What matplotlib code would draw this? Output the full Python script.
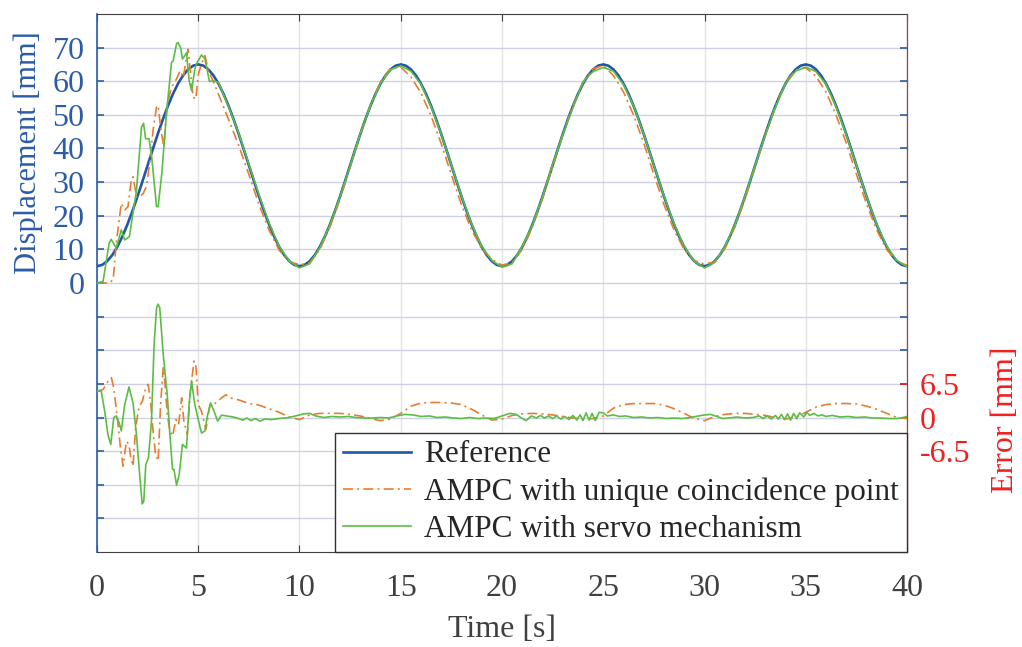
import numpy as np
import matplotlib
matplotlib.use("Agg")
import matplotlib.pyplot as plt

plt.rcParams['font.family'] = ['Liberation Serif', 'DejaVu Serif']
plt.rcParams['mathtext.fontset'] = 'stix'

# ---------------- data ----------------
# Reference trajectory, sampled every 0.25 s from 0 to 40 s
t_ref = np.linspace(0, 40, 161)
reference = [
    5.00, 5.37, 6.47, 8.27, 10.73, 13.79, 17.37, 21.38, 25.73, 30.31, 35.00, 39.69, 44.27, 48.62, 52.63, 56.21,
    59.27, 61.73, 63.53, 64.63, 65.00, 64.63, 63.53, 61.73, 59.27, 56.21, 52.63, 48.62, 44.27, 39.69, 35.00,
    30.31, 25.73, 21.38, 17.37, 13.79, 10.73, 8.27, 6.47, 5.37,
    5.00, 5.37, 6.47, 8.27, 10.73, 13.79, 17.37, 21.38, 25.73, 30.31, 35.00, 39.69, 44.27, 48.62, 52.63, 56.21,
    59.27, 61.73, 63.53, 64.63, 65.00, 64.63, 63.53, 61.73, 59.27, 56.21, 52.63, 48.62, 44.27, 39.69, 35.00,
    30.31, 25.73, 21.38, 17.37, 13.79, 10.73, 8.27, 6.47, 5.37,
    5.00, 5.37, 6.47, 8.27, 10.73, 13.79, 17.37, 21.38, 25.73, 30.31, 35.00, 39.69, 44.27, 48.62, 52.63, 56.21,
    59.27, 61.73, 63.53, 64.63, 65.00, 64.63, 63.53, 61.73, 59.27, 56.21, 52.63, 48.62, 44.27, 39.69, 35.00,
    30.31, 25.73, 21.38, 17.37, 13.79, 10.73, 8.27, 6.47, 5.37,
    5.00, 5.37, 6.47, 8.27, 10.73, 13.79, 17.37, 21.38, 25.73, 30.31, 35.00, 39.69, 44.27, 48.62, 52.63, 56.21,
    59.27, 61.73, 63.53, 64.63, 65.00, 64.63, 63.53, 61.73, 59.27, 56.21, 52.63, 48.62, 44.27, 39.69, 35.00,
    30.31, 25.73, 21.38, 17.37, 13.79, 10.73, 8.27, 6.47, 5.37,
    5.00,
]

# AMPC with unique coincidence point - displacement
t_ucp_early = [0.0, 0.6, 0.8, 0.95, 1.2, 1.37, 1.53, 1.7, 1.78, 1.95, 2.1, 2.28, 2.44, 2.6, 2.77, 2.94, 3.02,
               3.14, 3.3, 3.47, 3.68, 3.93, 4.1, 4.26, 4.42, 4.5, 4.59, 4.75, 4.88, 5.0, 5.16, 5.33, 5.5, 5.74]
ucp_early = [0.0, 0.0, 1.0, 11.8, 23.7, 21.7, 22.7, 31.0, 31.6, 25.6, 25.6, 26.6, 28.6, 35.5, 45.4, 52.3, 52.8,
             46.4, 40.4, 53.3, 58.2, 60.7, 63.1, 61.1, 67.0, 69.5, 64.1, 55.2, 54.7, 62.0, 65.1, 67.6, 63.1, 60.0]
t_late = np.linspace(6, 40, 69)
ucp_late = [56.1, 48.6, 40.9, 32.3, 23.3, 15.7, 9.7, 6.4, 5.4, 6.0, 9.9, 16.6, 24.9, 34.4, 44.0, 52.8, 59.9,
            63.8, 64.2, 61.3, 56.5, 49.7, 41.4, 32.2, 23.2, 15.8, 10.2, 7.0, 5.3, 6.1, 10.0, 16.6, 25.0, 34.5,
            44.1, 52.7, 59.6, 63.7, 64.7, 61.7, 56.8, 49.9, 41.6, 32.3, 23.3, 15.7, 9.9, 6.7, 5.6, 6.3, 10.1,
            16.6, 24.9, 34.4, 43.9, 52.6, 59.6, 63.4, 64.0, 61.5, 56.8, 49.9, 41.6, 32.4, 23.5, 15.8, 9.9, 6.5, 5.2]

# AMPC with servo mechanism - displacement
t_servo_early = [0.0, 0.3, 0.6, 0.7, 0.95, 1.2, 1.37, 1.6, 1.95, 2.2, 2.3, 2.4, 2.57, 2.7, 2.94, 3.02, 3.2,
                 3.43, 3.68, 3.76, 3.93, 4.0, 4.13, 4.22, 4.34, 4.42, 4.55, 4.67, 4.83, 4.95, 5.16, 5.33,
                 5.55, 5.83]
servo_early = [0.0, 0.5, 11.8, 13.0, 10.4, 15.8, 12.8, 13.8, 27.6, 46.4, 47.5, 42.9, 42.9, 37.5, 22.7, 22.7,
               32.5, 50.3, 65.6, 66.0, 71.2, 71.5, 70.0, 66.6, 67.6, 68.5, 60.2, 57.2, 63.6, 65.6, 67.8, 66.6,
               60.0, 60.0]
servo_late = [59.6, 52.4, 44.5, 35.3, 26.3, 17.8, 10.9, 6.5, 4.5, 5.7, 10.5, 17.2, 25.6, 34.8, 44.4, 52.7, 59.3,
              63.5, 64.6, 63.0, 59.1, 52.4, 44.2, 35.1, 25.9, 17.5, 10.9, 6.7, 4.7, 5.7, 10.9, 17.2, 25.6, 35.2,
              44.1, 52.2, 59.9, 62.9, 64.1, 63.0, 59.0, 52.6, 44.3, 35.0, 25.9, 17.5, 10.9, 6.4, 4.5, 6.1, 10.8,
              17.3, 25.8, 35.0, 44.1, 52.2, 59.3, 63.0, 64.2, 62.9, 59.1, 52.4, 44.1, 35.0, 25.7, 17.5, 10.9, 6.7, 4.8]

# Errors [mm]
t_ucp_err = [0.0, 0.3, 0.54, 0.71, 0.83, 1.04, 1.16, 1.29, 1.45, 1.58, 1.67, 1.78, 1.91, 2.08, 2.25, 2.36, 2.53,
             2.66, 2.77, 2.89, 3.02, 3.14, 3.27, 3.35, 3.47, 3.6, 3.73, 3.9, 4.03, 4.18, 4.29, 4.46, 4.59, 4.79,
             4.88, 5.0, 5.16, 5.38, 5.58, 5.74, 5.99, 6.15, 6.37, 6.57,
             7.0, 7.5, 8.0, 8.5, 9.0, 9.5, 10.0, 10.5, 11.0, 11.5, 12.0, 12.5, 13.0, 13.5, 14.0, 14.5, 15.0, 15.5,
             16.0, 16.5, 17.0, 17.5, 18.0, 18.5, 19.0, 19.5, 20.0, 20.5, 21.0, 21.5, 22.0, 22.5, 23.0, 23.5, 24.0,
             24.5, 25.0, 25.5, 26.0, 26.5, 27.0, 27.5, 28.0, 28.5, 29.0, 29.5, 30.0, 30.5, 31.0, 31.5, 32.0, 32.5,
             33.0, 33.5, 34.0, 34.5, 35.0, 35.5, 36.0, 36.5, 37.0, 37.5, 38.0, 38.5, 39.0, 39.5, 40.0]
ucp_err = [5.1, 5.4, 7.0, 7.7, 5.7, -1.35, -5.9, -9.4, -4.6, -5.2, -7.8, -9.4, -2.0, 2.2, 3.2, 5.1, 6.4,
           2.5, -2.6, -7.1, -8.4, 2.5, 9.6, 7.0, 0.6, -2.6, -3.6, -0.4, -1.35, 3.8, -0.7, -3.3, 4.4, 10.9,
           10.2, 2.5, 1.2, -2.3, 2.5, 2.5, 3.2, 3.8, 4.4, 3.8,
           3.4, 2.7, 2.4, 1.7, 1.0, 0.1, -0.4, 0.5, 0.8, 0.8, 0.8, 0.6, 0.3, -0.2, -0.6, -0.3, 0.8, 2.2,
           2.8, 2.9, 2.9, 2.8, 2.5, 1.6, 0.5, -0.5, -0.3, 0.4, 0.7, 0.8, 0.7, 0.5, 0.2, -0.1, -0.3,
           -0.2, 0.3, 1.8, 2.5, 2.7, 2.7, 2.7, 2.4, 1.7, 0.8, -0.2, -0.6, 0.2, 0.6, 0.8, 0.8, 0.6,
           0.4, 0.0, -0.3, 0.1, 1.0, 2.0, 2.5, 2.7, 2.7, 2.6, 2.2, 1.6, 0.8, 0.0, -0.2]

t_servo_err = [0.0, 0.21, 0.38, 0.54, 0.68, 0.83, 0.96, 1.09, 1.2, 1.37, 1.58, 1.78, 1.95, 2.08, 2.23, 2.31, 2.41,
               2.54, 2.69, 2.82, 2.94, 3.02, 3.1, 3.27, 3.47, 3.6, 3.73, 3.8, 3.93, 4.06, 4.22, 4.42, 4.55, 4.67,
               4.83, 5.0, 5.16, 5.33, 5.45, 5.61, 5.78, 5.96, 6.15, 6.4, 6.73, 7.0, 7.2, 7.4, 7.6, 7.8, 8.05, 8.3,
               8.6, 9.0, 9.5, 9.8, 10.2, 10.5, 10.8, 11.2, 11.6, 12.0, 12.4, 12.8, 13.2, 13.6, 14.0, 14.4, 14.8,
               15.2, 15.6, 16.0, 16.4, 16.8, 17.2, 17.6, 18.0, 18.4, 18.8, 19.2, 19.6, 20.0, 20.4, 20.7, 21.0,
               21.2, 21.45, 21.7, 21.9, 22.1, 22.3, 22.5, 22.7, 22.9, 23.1, 23.3, 23.5, 23.7, 23.85, 24.0, 24.15,
               24.3, 24.45, 24.6, 24.8, 25.0, 25.2, 25.5, 25.8, 26.1, 26.5, 26.9, 27.3, 27.7, 28.1, 28.5, 28.9,
               29.3, 29.7, 30.0, 30.3, 30.6, 30.9, 31.2, 31.6, 32.0, 32.4, 32.7, 32.9, 33.1, 33.3, 33.5, 33.65,
               33.8, 33.95, 34.1, 34.25, 34.4, 34.55, 34.7, 34.9, 35.05, 35.2, 35.4, 35.6, 35.8, 36.0, 36.3,
               36.7, 37.1, 37.5, 37.9, 38.3, 38.7, 39.1, 39.5, 39.8, 40.0]
servo_err = [5.1, 5.1, 1.2, -3.3, -5.2, 0.0, 0.3, -1.0, -2.6, 2.5, 5.9, 2.8, -3.3, -9.7, -16.7, -16.2, -9.1,
             -7.8, -0.7, 14.1, 21.2, 21.9, 21.2, 12.2, 4.4, -3.3, -10.0, -10.0, -13.1, -11.0, -5.2, -5.9, 2.5, 7.1,
             2.5, -0.4, -3.0, -2.6, 0.3, 2.8, 1.2, -0.7, 0.45, 0.3, 0.1, -0.2, -0.5, -0.1, -0.6, -0.2, -0.7, -0.3,
             -0.4, -0.2, 0.0, 0.3, 0.7, 0.8, 0.3, 0.0, 0.2, 0.1, 0.2, 0.0, -0.1, -0.1, 0.0, -0.1, 0.3,
             0.6, 0.5, 0.2, 0.3, 0.0, 0.1, -0.1, -0.2, 0.0, -0.2, -0.1, -0.2, 0.3, 0.8, 0.6, -0.2,
             -0.6, 0.3, -0.1, 0.4, -0.1, 0.3, -0.2, 0.3, -0.3, 0.2, -0.4, 0.4, -0.5, 0.5, -0.6, 0.9,
             -0.5, 0.8, -0.6, 1.0, 0.9, 0.3, 0.5, 0.2, 0.3, 0.0, 0.1, -0.1, 0.0, -0.2, -0.1, -0.2,
             0.0, 0.3, 0.5, 0.6, 0.2, -0.2, -0.1, 0.1, -0.1, 0.0, 0.3, -0.2, 0.3, -0.3, 0.4, -0.3,
             0.6, -0.4, 0.7, -0.5, 0.8, -0.2, 0.9, 0.1, 1.0, 0.4, 0.8, 0.3, 0.5, 0.2, 0.4,
             0.1, 0.2, 0.0, 0.1, -0.1, -0.1, -0.2, -0.2, 0.0, 0.2]

x_ticks = [0, 5, 10, 15, 20, 25, 30, 35, 40]
disp_ticks = [-70, -60, -50, -40, -30, -20, -10, 0, 10, 20, 30, 40, 50, 60, 70]
disp_tick_labels = ['', '', '', '', '', '', '', '0', '10', '20', '30', '40', '50', '60', '70']
err_ticks = [-6.5, 0, 6.5]
err_tick_labels = ['-6.5', '0', '6.5']
legend_labels = ['Reference', 'AMPC with unique coincidence point', 'AMPC with servo mechanism']

# ---------------- styling ----------------
C_BLUE = '#2356a8'
C_ORANGE = '#e87d2f'
C_GREEN = '#5cbd45'
C_AXBLUE = '#2b5ca8'
C_RED = '#f02020'
C_GRAY = '#404040'
dashdot = (0, (6, 2.5, 1.2, 2.5))

fig = plt.figure(figsize=(10.22, 6.47), dpi=100)
ax1 = fig.add_axes([0.0949, 0.1468, 0.7926, 0.8316])
ax2 = ax1.twinx()

t_ucp = list(t_ucp_early) + list(t_late)
ucp = ucp_early + ucp_late
t_servo = list(t_servo_early) + list(t_late)
servo = servo_early + servo_late

l_ref, = ax1.plot(t_ref, reference, color=C_BLUE, lw=1.9, zorder=3)
l_ucp, = ax1.plot(t_ucp, ucp, color=C_ORANGE, lw=1.2, ls=dashdot, zorder=4)
l_srv, = ax1.plot(t_servo, servo, color=C_GREEN, lw=1.2, zorder=5)

ax2.plot(t_ucp_err, ucp_err, color=C_ORANGE, lw=1.2, ls=dashdot, zorder=4)
ax2.plot(t_servo_err, servo_err, color=C_GREEN, lw=1.2, zorder=5)

ax1.set_xlim(0, 40)
ax1.set_ylim(-80, 80)
ax2.set_ylim(-26, 78)

ax1.set_xticks(x_ticks)
ax1.set_xticklabels([str(v) for v in x_ticks])
ax1.set_yticks(disp_ticks)
ax1.set_yticklabels(disp_tick_labels)
ax2.set_yticks(err_ticks)
ax2.set_yticklabels(err_tick_labels)

ax1.set_axisbelow(True)
ax1.yaxis.grid(True, color='#cdd0e6', lw=1.0)
ax1.xaxis.grid(True, color='#e4e4e4', lw=1.0)

ax1.tick_params(axis='x', direction='in', length=5, width=0.8, colors=C_GRAY, labelsize=23, pad=16,
                top=True)
ax1.tick_params(axis='y', direction='in', length=5, width=1.2, colors=C_AXBLUE, labelsize=23, pad=9,
                right=True)
ax2.tick_params(axis='y', direction='in', length=5, width=1.2, colors=C_RED, labelsize=23, pad=9)

for s in ['top', 'bottom']:
    ax1.spines[s].set_color(C_GRAY)
ax1.spines['left'].set_color(C_AXBLUE)
ax1.spines['left'].set_linewidth(1.2)
ax2.spines['right'].set_color(C_RED)
ax2.spines['left'].set_visible(False)
ax2.spines['top'].set_visible(False)
ax2.spines['bottom'].set_visible(False)

ax1.set_xlabel('Time [s]', fontsize=23, color=C_GRAY)
ax1.xaxis.set_label_coords(0.5, -0.117)
ax1.set_ylabel('Displacement [mm]', fontsize=22, color=C_AXBLUE)
ax1.yaxis.set_label_coords(-0.067, 0.743)
ax2.set_ylabel('Error [mm]', fontsize=23, color=C_RED, rotation=90)
ax2.yaxis.set_label_coords(1.104, 0.245)

leg = ax2.legend([l_ref, l_ucp, l_srv], legend_labels, loc='lower right', bbox_to_anchor=(1.0, 0.0),
                 borderaxespad=0.0, fontsize=22.5, frameon=True, fancybox=False, framealpha=1.0,
                 edgecolor='#303030', handlelength=2.2, handletextpad=0.42, labelspacing=0.26,
                 borderpad=0.25)
leg.get_frame().set_linewidth(1.0)
for txt in leg.get_texts():
    txt.set_color('#262626')
leg.set_zorder(10)

fig.savefig('out.png', dpi=100)
